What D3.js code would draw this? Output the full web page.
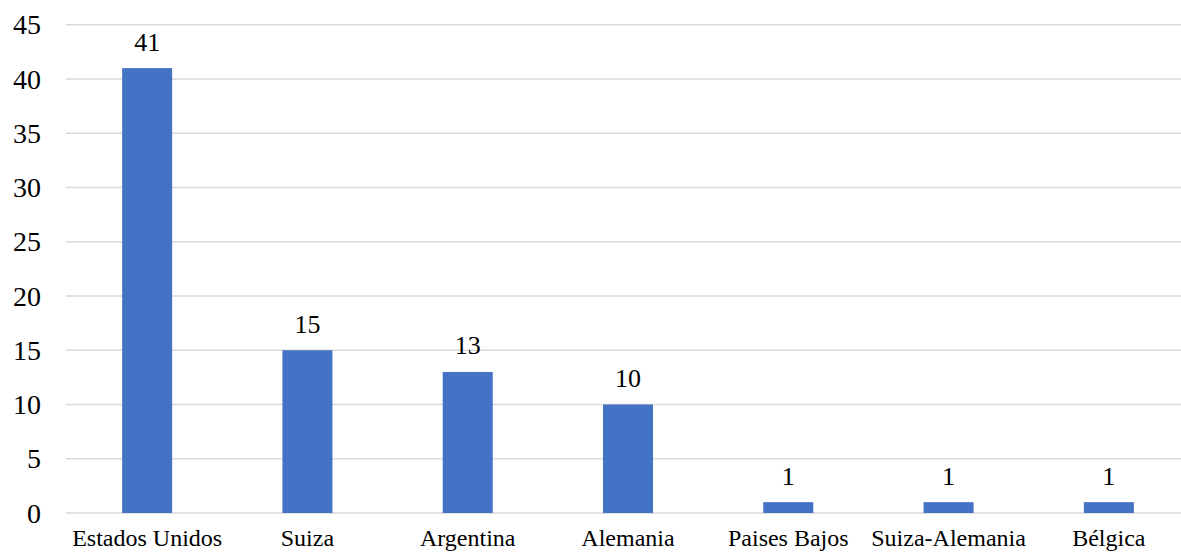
<!DOCTYPE html>
<html>
<head>
<meta charset="utf-8">
<script src="https://cdn.jsdelivr.net/npm/d3@7"></script>
<style>
  html, body { margin: 0; padding: 0; background: #fff; overflow: hidden; }
  svg { display: block; }
  svg text { font-family: "Liberation Serif", "DejaVu Serif", "Times New Roman", Times, serif; fill: #000; }
</style>
</head>
<body>
<svg id="chart" width="1181" height="552"></svg>
<script>
const categories = ["Estados Unidos", "Suiza", "Argentina", "Alemania", "Paises Bajos", "Suiza-Alemania", "Bélgica"];
const values = [41, 15, 13, 10, 1, 1, 1];
const yTicks = [0, 5, 10, 15, 20, 25, 30, 35, 40, 45];

(function () {
const svg = d3.select("#chart");
const plotLeft = 67, plotRight = 1189, plotTop = 24.7, plotBottom = 513;

const x = d3.scaleBand().domain(categories).range([plotLeft, plotRight])
  .paddingInner(0.688).paddingOuter(0.344);
const y = d3.scaleLinear().domain([0, 45]).range([plotBottom, plotTop]);

// gridlines
svg.append("g").selectAll("line").data(yTicks).join("line")
  .attr("x1", 66).attr("x2", plotRight)
  .attr("y1", d => y(d)).attr("y2", d => y(d))
  .attr("stroke", "#d9d9d9").attr("stroke-width", 1.5);

// y axis labels
const yAxis = d3.axisLeft(y).tickValues(yTicks).tickSize(0).tickPadding(0);
const gy = svg.append("g").attr("transform", "translate(41,0)").call(yAxis);
gy.attr("font-family", null).attr("font-size", null);
gy.select(".domain").remove();
gy.selectAll("text")
  .style("font-size", "28px").attr("dy", "0.33em");

// bars
svg.append("g").selectAll("rect").data(values).join("rect")
  .attr("x", (d, i) => x(categories[i]))
  .attr("width", x.bandwidth())
  .attr("y", d => y(d))
  .attr("height", d => y(0) - y(d))
  .attr("fill", "#4472c4");

// data labels
svg.append("g").selectAll("text").data(values).join("text")
  .attr("x", (d, i) => x(categories[i]) + x.bandwidth() / 2)
  .attr("y", d => y(d) - 17.5)
  .attr("text-anchor", "middle")
  .style("font-size", "26px")
  .text(d => d);

// x axis labels
const xAxis = d3.axisBottom(x).tickSize(0).tickPadding(0);
const gx = svg.append("g").attr("transform", "translate(0,528)").call(xAxis);
gx.attr("font-family", null).attr("font-size", null);
gx.select(".domain").remove();
gx.selectAll("text")
  .style("font-size", "24px").attr("dy", "0.76em");
})();
</script>
</body>
</html>
